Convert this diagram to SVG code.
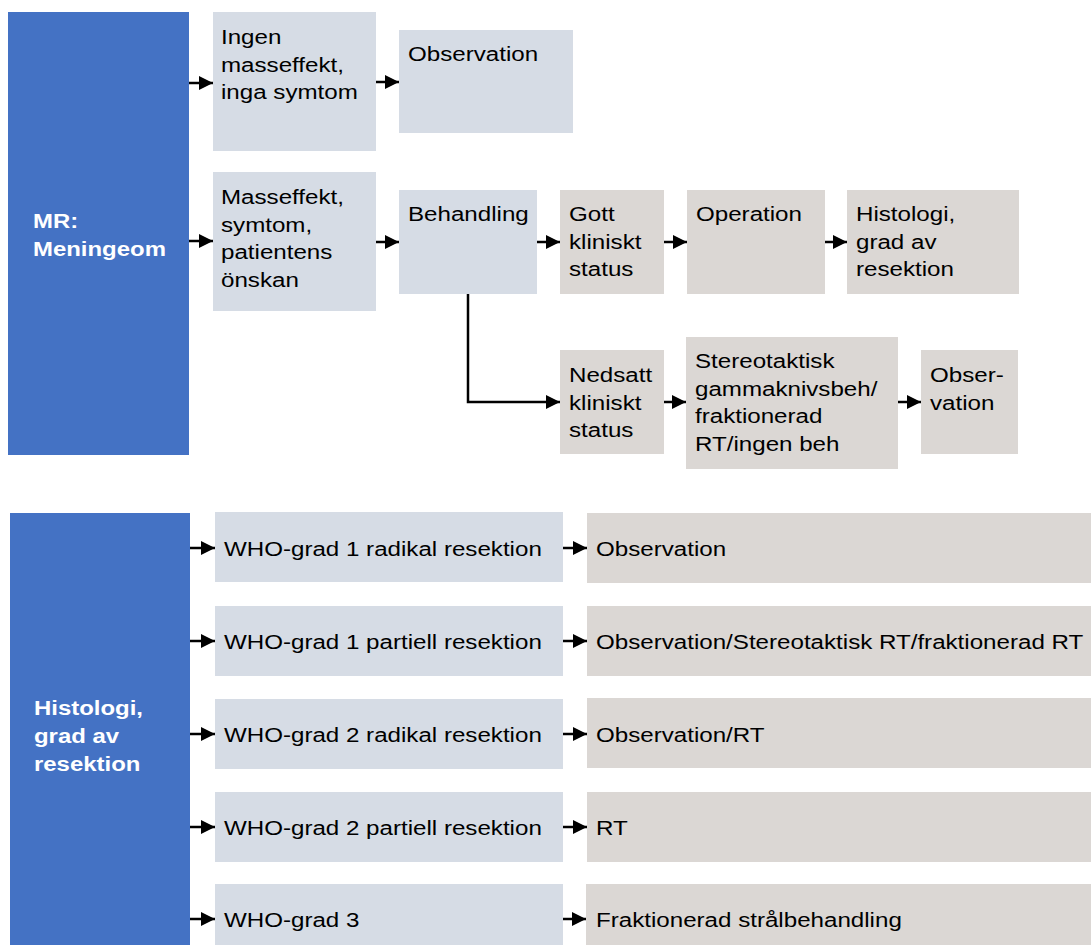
<svg xmlns="http://www.w3.org/2000/svg" width="1091" height="945" viewBox="0 0 1091 945">
<defs>
<style>
.blue{fill:#4472C4}
.lb{fill:#D6DCE5}
.gr{fill:#DBD7D4}
.t{font-family:"Liberation Sans",Arial,sans-serif;font-size:21px;fill:#000}
.w{font-family:"Liberation Sans",Arial,sans-serif;font-size:21px;font-weight:bold;fill:#fff}
.c{stroke:#000;stroke-width:2.5;fill:none;marker-end:url(#ah)}
</style>
<marker id="ah" markerUnits="userSpaceOnUse" markerWidth="15" markerHeight="14" refX="14" refY="7" orient="auto">
<path d="M0,0 L14,7 L0,14 z" fill="#000"/>
</marker>
</defs>
<rect width="1091" height="945" fill="#fff"/>

<g id="n-mr">
<rect class="blue" x="8" y="12" width="181" height="443"/>
<text class="w" transform="matrix(1.14 0 0 1 33 228)"><tspan x="0" y="0">MR:</tspan><tspan x="0" y="28">Meningeom</tspan></text>
</g>
<g id="n-ingen">
<rect class="lb" x="213" y="12" width="163" height="139"/>
<text class="t" transform="matrix(1.15 0 0 1 221 44)"><tspan x="0" y="0">Ingen</tspan><tspan x="0" y="27.6">masseffekt,</tspan><tspan x="0" y="55.2">inga symtom</tspan></text>
</g>
<g id="n-obs1">
<rect class="lb" x="399" y="30" width="174" height="103"/>
<text class="t" transform="matrix(1.15 0 0 1 408 61)"><tspan x="0" y="0">Observation</tspan></text>
</g>
<g id="n-mass">
<rect class="lb" x="213" y="172" width="163" height="139"/>
<text class="t" transform="matrix(1.15 0 0 1 221 204)"><tspan x="0" y="0">Masseffekt,</tspan><tspan x="0" y="27.6">symtom,</tspan><tspan x="0" y="55.2">patientens</tspan><tspan x="0" y="82.8">önskan</tspan></text>
</g>
<g id="n-beh">
<rect class="lb" x="399" y="190" width="138" height="104"/>
<text class="t" transform="matrix(1.15 0 0 1 408 221)"><tspan x="0" y="0">Behandling</tspan></text>
</g>
<g id="n-gott">
<rect class="gr" x="560" y="190" width="104" height="104"/>
<text class="t" transform="matrix(1.15 0 0 1 569 221)"><tspan x="0" y="0">Gott</tspan><tspan x="0" y="27.6">kliniskt</tspan><tspan x="0" y="55.2">status</tspan></text>
</g>
<g id="n-op">
<rect class="gr" x="687" y="190" width="138" height="104"/>
<text class="t" transform="matrix(1.15 0 0 1 696 221)"><tspan x="0" y="0">Operation</tspan></text>
</g>
<g id="n-hist1">
<rect class="gr" x="847" y="190" width="172" height="104"/>
<text class="t" transform="matrix(1.15 0 0 1 856 221)"><tspan x="0" y="0">Histologi,</tspan><tspan x="0" y="27.6">grad av</tspan><tspan x="0" y="55.2">resektion</tspan></text>
</g>
<g id="n-ned">
<rect class="gr" x="560" y="350" width="104" height="104"/>
<text class="t" transform="matrix(1.15 0 0 1 569 382)"><tspan x="0" y="0">Nedsatt</tspan><tspan x="0" y="27.6">kliniskt</tspan><tspan x="0" y="55.2">status</tspan></text>
</g>
<g id="n-stereo">
<rect class="gr" x="686" y="337" width="212" height="132"/>
<text class="t" transform="matrix(1.15 0 0 1 695 368)"><tspan x="0" y="0">Stereotaktisk</tspan><tspan x="0" y="27.6">gammaknivsbeh/</tspan><tspan x="0" y="55.2">fraktionerad</tspan><tspan x="0" y="82.8">RT/ingen beh</tspan></text>
</g>
<g id="n-obs2">
<rect class="gr" x="921" y="350" width="97" height="104"/>
<text class="t" transform="matrix(1.15 0 0 1 930 382)"><tspan x="0" y="0">Obser-</tspan><tspan x="0" y="27.6">vation</tspan></text>
</g>

<g id="n-hist2">
<rect class="blue" x="10" y="513" width="180" height="432"/>
<text class="w" transform="matrix(1.14 0 0 1 34 715)"><tspan x="0" y="0">Histologi,</tspan><tspan x="0" y="28">grad av</tspan><tspan x="0" y="56">resektion</tspan></text>
</g>
<g id="n-w1r">
<rect class="lb" x="215" y="512" width="348" height="70"/>
<text class="t" transform="matrix(1.15 0 0 1 224 556)">WHO-grad 1 radikal resektion</text>
</g>
<g id="n-w1p">
<rect class="lb" x="215" y="606" width="348" height="70"/>
<text class="t" transform="matrix(1.15 0 0 1 224 649)">WHO-grad 1 partiell resektion</text>
</g>
<g id="n-w2r">
<rect class="lb" x="215" y="699" width="348" height="70"/>
<text class="t" transform="matrix(1.15 0 0 1 224 742)">WHO-grad 2 radikal resektion</text>
</g>
<g id="n-w2p">
<rect class="lb" x="215" y="792" width="348" height="70"/>
<text class="t" transform="matrix(1.15 0 0 1 224 835)">WHO-grad 2 partiell resektion</text>
</g>
<g id="n-w3">
<rect class="lb" x="215" y="884" width="348" height="61"/>
<text class="t" transform="matrix(1.15 0 0 1 224 927)">WHO-grad 3</text>
</g>
<g id="n-r1">
<rect class="gr" x="587" y="513" width="504" height="70"/>
<text class="t" transform="matrix(1.15 0 0 1 596 556)">Observation</text>
</g>
<g id="n-r2">
<rect class="gr" x="587" y="606" width="504" height="70"/>
<text class="t" transform="matrix(1.15 0 0 1 596 649)">Observation/Stereotaktisk RT/fraktionerad RT</text>
</g>
<g id="n-r3">
<rect class="gr" x="587" y="698" width="504" height="70"/>
<text class="t" transform="matrix(1.15 0 0 1 596 742)">Observation/RT</text>
</g>
<g id="n-r4">
<rect class="gr" x="587" y="792" width="504" height="70"/>
<text class="t" transform="matrix(1.15 0 0 1 596 835)">RT</text>
</g>
<g id="n-r5">
<rect class="gr" x="586" y="884" width="505" height="61"/>
<text class="t" transform="matrix(1.15 0 0 1 596 927)">Fraktionerad strålbehandling</text>
</g>

<g id="connectors">
<path class="c" d="M189,83 H213"/>
<path class="c" d="M189,241 H213"/>
<path class="c" d="M376,82 H399"/>
<path class="c" d="M376,242 H399"/>
<path class="c" d="M537,242 H560"/>
<path class="c" d="M664,242 H687"/>
<path class="c" d="M825,242 H847"/>
<path class="c" d="M468,294 V402 H560"/>
<path class="c" d="M664,402 H686"/>
<path class="c" d="M898,402 H921"/>
<path class="c" d="M190,548 H215"/>
<path class="c" d="M190,641 H215"/>
<path class="c" d="M190,734 H215"/>
<path class="c" d="M190,827 H215"/>
<path class="c" d="M190,919 H215"/>
<path class="c" d="M563,548 H587"/>
<path class="c" d="M563,641 H587"/>
<path class="c" d="M563,734 H587"/>
<path class="c" d="M563,827 H587"/>
<path class="c" d="M563,919 H586"/>
</g>
</svg>
